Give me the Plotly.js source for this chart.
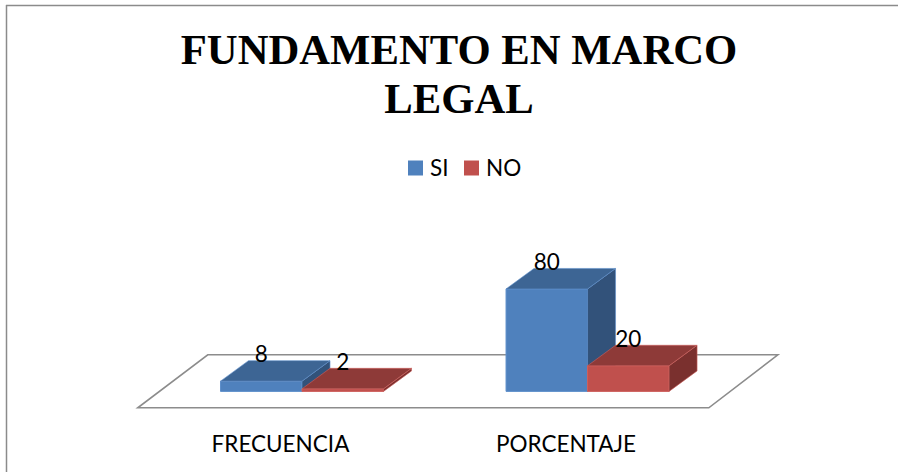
<!DOCTYPE html>
<html><head><meta charset="utf-8">
<script src="https://cdn.plot.ly/plotly-3.0.1.min.js"></script>
<style>html,body{margin:0;padding:0;background:#fff}#c{width:898px;height:472px}</style>
</head><body><div id="c"></div>
<script>
const categories = ["FRECUENCIA", "PORCENTAJE"];
const seriesNames = ["SI", "NO"];
const siValues = [8, 80];
const noValues = [2, 20];
const frontColors = ["#4F81BD", "#C0504D"];
const topColors = ["#3D6594", "#8E3A38"];
const sideColors = ["#32527A", "#7A302E"];
const edgeColors = ["#5E8FCB", "#CE5F5C"];

const W = 898, H = 472;
const barW = 0.2855, depthX = 0.098, depthY = 16, labelLift = 3.4, catLabelShift = 0.0755;
const xRange = [-0.6025, 1.709], yRange = [-20, 110.4];
const xDomain = [130 / W, 790 / W], yDomain = [1 - 417 / H, 1 - 250 / H];
const xs = categories.map((_, i) => i);
const textFont = { family: "Lato, sans-serif", size: 22.5, color: "#000" };

function faces(vals, offset, kind) {
  const px = [], py = [];
  vals.forEach((v, i) => {
    const l = i + offset, r = l + barW;
    if (kind === "top") {
      px.push(l, l + depthX, r + depthX, r, l, null);
      py.push(v, v + depthY, v + depthY, v, v, null);
    } else {
      px.push(r, r + depthX, r + depthX, r, r, null);
      py.push(v, v + depthY, depthY, 0, v, null);
    }
  });
  return { x: px, y: py };
}
function faceTrace(vals, offset, kind, idx, xa, ya) {
  const f = faces(vals, offset, kind);
  return { type: "scatter", mode: "lines", x: f.x, y: f.y, fill: "toself",
    fillcolor: kind === "top" ? topColors[idx] : sideColors[idx],
    line: { color: edgeColors[idx], width: 0.6 }, hoverinfo: "skip", showlegend: false, xaxis: xa, yaxis: ya };
}
function barTrace(vals, offset, idx, xa, ya) {
  return { type: "bar", name: seriesNames[idx], x: xs, y: vals, width: barW, offset: offset,
    marker: { color: frontColors[idx], line: { color: edgeColors[idx], width: 1 } },
    xaxis: xa, yaxis: ya, showlegend: false };
}
function labelTrace(vals, offset) {
  return { type: "scatter", mode: "text", x: xs.map(i => i + offset + barW / 2),
    y: vals.map(v => v + depthY + labelLift), text: vals.map(String), textposition: "middle center",
    textfont: textFont, cliponaxis: false,
    hoverinfo: "skip", showlegend: false, xaxis: "x2", yaxis: "y2" };
}

const data = [
  barTrace(siValues, -barW, 0, "x", "y"),
  faceTrace(siValues, -barW, "side", 0, "x", "y"),
  faceTrace(siValues, -barW, "top", 0, "x", "y"),
  barTrace(noValues, 0, 1, "x2", "y2"),
  faceTrace(noValues, 0, "side", 1, "x2", "y2"),
  faceTrace(noValues, 0, "top", 1, "x2", "y2"),
  labelTrace(siValues, -barW),
  labelTrace(noValues, 0)
];

const floorFront = -12.8, floorBack = 28.6;
const floorX = [-0.5753, 1.4247, 1.6664, -0.3301];
const border = { color: "#8B8B8B", width: 1.5 };
const titleLineGap = 49;
const layout = {
  width: W, height: H, margin: { l: 0, r: 0, t: 0, b: 0 }, paper_bgcolor: "#fff", plot_bgcolor: "rgba(0,0,0,0)",
  showlegend: false,
  title: { text: "FUNDAMENTO EN MARCO<br>LEGAL", x: 459 / W, xanchor: "center", y: 1 - 64 / H, yanchor: "top",
    font: { family: "Liberation Serif, serif", size: 42.7, color: "#000", weight: 700 } },
  xaxis: { domain: xDomain, range: xRange, type: "linear", tickmode: "array", tickvals: xs.map(i => i - catLabelShift),
    ticktext: categories, ticks: "outside", ticklen: 7, tickcolor: "rgba(0,0,0,0)", showgrid: false, zeroline: false,
    showline: false, tickfont: textFont },
  yaxis: { domain: yDomain, range: yRange, visible: false, showgrid: false, zeroline: false },
  xaxis2: { domain: xDomain, range: xRange, type: "linear", overlaying: "x", visible: false },
  yaxis2: { domain: yDomain, range: yRange, overlaying: "y", visible: false },
  shapes: [
    { type: "path", xref: "x", yref: "y", layer: "below",
      path: `M${floorX[0]},${floorFront}L${floorX[1]},${floorFront}L${floorX[2]},${floorBack}L${floorX[3]},${floorBack}Z`,
      line: { color: "#8C8C8C", width: 1.6 }, fillcolor: "rgba(0,0,0,0)" },
    { type: "line", xref: "paper", yref: "paper", x0: 6.5 / W, x1: 6.5 / W, y0: 0, y1: 1 - 5 / H, line: border },
    { type: "line", xref: "paper", yref: "paper", x0: 6 / W, x1: 1, y0: 1 - 5.5 / H, y1: 1 - 5.5 / H, line: border },
    { type: "rect", xref: "paper", yref: "paper", x0: 408 / W, x1: 423 / W, y0: 1 - 175.5 / H, y1: 1 - 160.5 / H,
      fillcolor: frontColors[0], line: { width: 0 } },
    { type: "rect", xref: "paper", yref: "paper", x0: 464 / W, x1: 479 / W, y0: 1 - 175.5 / H, y1: 1 - 160.5 / H,
      fillcolor: frontColors[1], line: { width: 0 } }
  ],
  annotations: [
    { text: seriesNames[0], xref: "paper", yref: "paper", x: 428 / W, y: 1 - 168 / H, xanchor: "left", yanchor: "middle", showarrow: false, font: textFont },
    { text: seriesNames[1], xref: "paper", yref: "paper", x: 484 / W, y: 1 - 168 / H, xanchor: "left", yanchor: "middle", showarrow: false, font: textFont }
  ]
};
Plotly.newPlot("c", data, layout, { displayModeBar: false, staticPlot: true }).then(() => {
  const lines = document.querySelectorAll(".gtitle tspan.line");
  if (lines.length === 2) lines[1].setAttribute("dy", titleLineGap + "px");
});
</script></body></html>
